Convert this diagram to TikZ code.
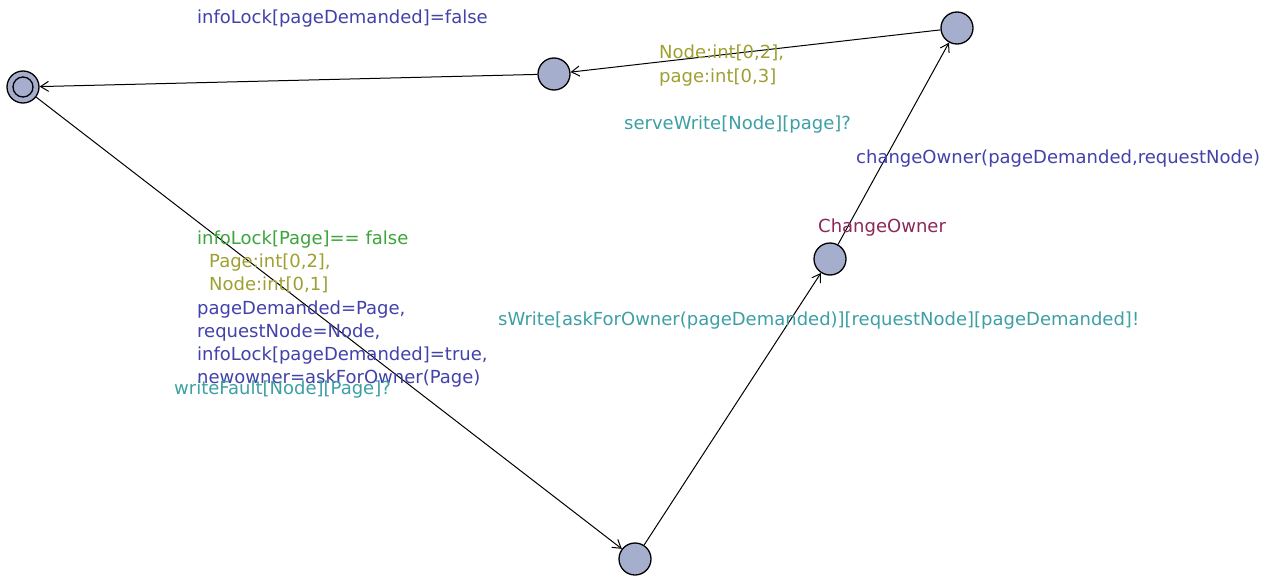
\documentclass[tikz,border=0pt]{standalone}
\usepackage{fontspec}
\setmainfont{DejaVu Sans}
\usetikzlibrary{arrows.meta}
\definecolor{locfill}{RGB}{166,174,206}
\definecolor{updcol}{RGB}{66,66,170}
\definecolor{grdcol}{RGB}{60,165,60}
\definecolor{selcol}{RGB}{160,160,50}
\definecolor{syncol}{RGB}{60,160,165}
\definecolor{namecol}{RGB}{140,40,90}
\begin{document}
\begin{tikzpicture}[x=1pt,y=-1pt,
  loc/.style={circle, draw=black, line width=1.3pt, fill=locfill, minimum size=32pt, inner sep=0pt},
  trans/.style={draw=black, line width=1pt, -{Straight Barb[length=8pt,width=10pt]}},
  lbl/.style={anchor=base west, inner sep=0pt, font=\fontsize{18}{23}\selectfont},
  upd/.style={lbl, text=updcol},
  grd/.style={lbl, text=grdcol},
  sel/.style={lbl, text=selcol},
  syn/.style={lbl, text=syncol},
  lname/.style={lbl, text=namecol}]
\fill[white] (0,0) rectangle (1267,578);
\useasboundingbox (0,0) rectangle (1267,578);

% locations
\node[loc] (A) at (23,87) {};
\draw[line width=1.3pt] (A.center) circle (10pt);
\node[loc] (B) at (554,74) {};
\node[loc] (C) at (957,28) {};
\node[loc] (D) at (635,559) {};
\node[loc] (E) at (830,259) {};

% transitions
\draw[trans] (C) -- (B);
\draw[trans] (B) -- (A);
\draw[trans] (A) -- (D);
\draw[trans] (D) -- (E);
\draw[trans] (E) -- (C);

% location name
\node[lname] (nE) at (818,232) {ChangeOwner};

% labels of B -> A
\node[upd] (u1) at (197,24) {infoLock[pageDemanded]=false};

% labels of C -> B
\node[sel] (s1) at (659,59) {Node:int[0,2],};
\node[sel] (s2) at (659,82) {page:int[0,3]};
\node[syn] (y1) at (624,129) {serveWrite[Node][page]?};

% labels of E -> C
\node[upd] (u2) at (856,163) {changeOwner(pageDemanded,requestNode)};

% labels of D -> E
\node[syn] (y2) at (498,325) {sWrite[askForOwner(pageDemanded)][requestNode][pageDemanded]!};

% labels of A -> D
\node[grd] (g1) at (197,244) {infoLock[Page]== false};
\node[sel] (s3) at (209,267) {Page:int[0,2],};
\node[sel] (s4) at (209,290) {Node:int[0,1]};
\node[upd] (u3) at (197,314) {pageDemanded=Page,};
\node[upd] (u4) at (197,337) {requestNode=Node,};
\node[upd] (u5) at (197,360) {infoLock[pageDemanded]=true,};
\node[upd] (u6) at (197,383) {newowner=askForOwner(Page)};
\node[syn] (y3) at (174,394) {writeFault[Node][Page]?};
\end{tikzpicture}
\end{document}
